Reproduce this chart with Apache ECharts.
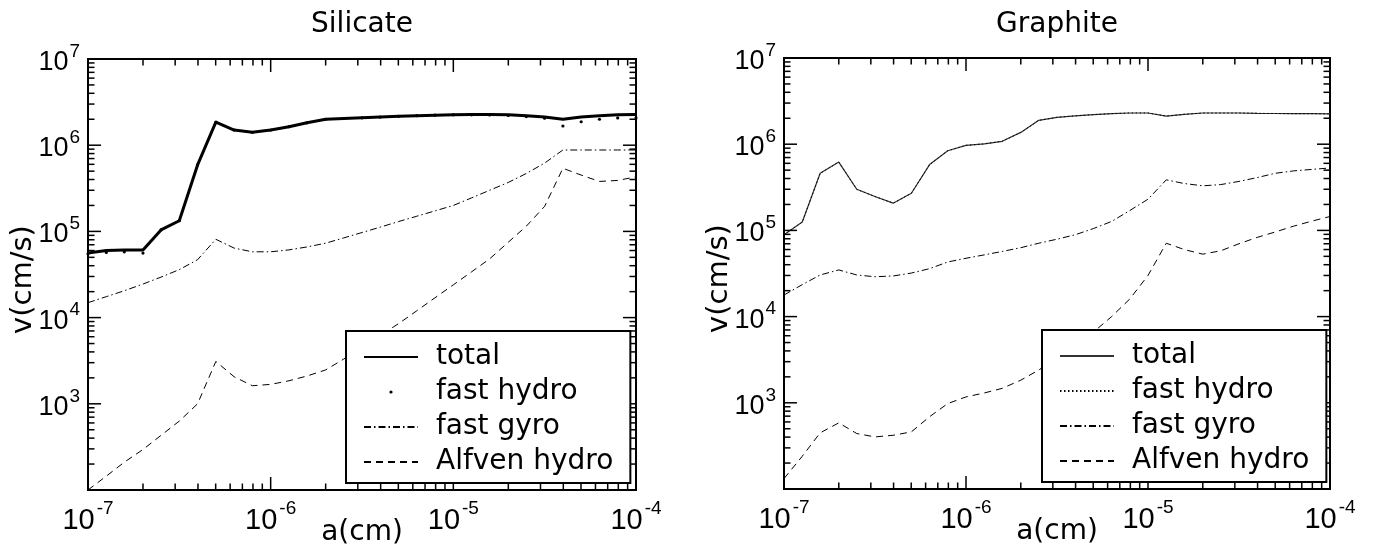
<!DOCTYPE html>
<html>
<head>
<meta charset="utf-8">
<script src="https://cdn.jsdelivr.net/npm/echarts@6/dist/echarts.min.js"></script>
<style>
html, body { margin: 0; padding: 0; background: #fff; }
#c1 { position: absolute; left: 0; top: 0; width: 690px; height: 548px; }
#c2 { position: absolute; left: 690px; top: 0; width: 687px; height: 548px; }
</style>
</head>
<body>
<div id="c1"></div>
<div id="c2"></div>
<script>
// grain radius a (cm)
const radius = [
  1.00e-7, 1.26e-7, 1.58e-7, 2.00e-7, 2.51e-7, 3.16e-7, 3.98e-7, 5.01e-7, 6.31e-7, 7.94e-7,
  1.00e-6, 1.26e-6, 1.58e-6, 2.00e-6, 2.51e-6, 3.16e-6, 3.98e-6, 5.01e-6, 6.31e-6, 7.94e-6,
  1.00e-5, 1.26e-5, 1.58e-5, 2.00e-5, 2.51e-5, 3.16e-5, 3.98e-5, 5.01e-5, 6.31e-5, 7.94e-5,
  1.00e-4
];

// Silicate velocities (cm/s)
const silTotal = [
  5.6e4, 6.0e4, 6.1e4, 6.1e4, 1.04e5, 1.33e5, 5.9e5, 1.85e6, 1.5e6, 1.41e6,
  1.5e6, 1.64e6, 1.82e6, 2.0e6, 2.04e6, 2.08e6, 2.12e6, 2.16e6, 2.2e6, 2.23e6,
  2.26e6, 2.27e6, 2.27e6, 2.25e6, 2.2e6, 2.12e6, 2.0e6, 2.13e6, 2.2e6, 2.25e6,
  2.27e6
];
const silFastHydro = [
  5.5e4, 5.7e4, 5.8e4, 5.6e4, 1.04e5, 1.33e5, 5.9e5, 1.85e6, 1.5e6, 1.41e6,
  1.5e6, 1.64e6, 1.82e6, 2.0e6, 2.04e6, 2.08e6, 2.12e6, 2.16e6, 2.2e6, 2.23e6,
  2.25e6, 2.25e6, 2.24e6, 2.21e6, 2.15e6, 2.06e6, 1.67e6, 1.87e6, 2.0e6, 2.07e6,
  2.07e6
];
const silFastGyro = [
  1.49e4, 1.75e4, 2.05e4, 2.45e4, 2.95e4, 3.6e4, 4.7e4, 8.1e4, 6.4e4, 5.8e4,
  5.8e4, 6.1e4, 6.6e4, 7.3e4, 8.4e4, 9.7e4, 1.12e5, 1.3e5, 1.5e5, 1.73e5,
  2.0e5, 2.45e5, 3.0e5, 3.7e5, 4.7e5, 6.2e5, 8.8e5, 8.8e5, 8.8e5, 8.8e5,
  8.8e5
];
const silAlfven = [
  1.0e2, 1.45e2, 2.1e2, 2.95e2, 4.3e2, 6.3e2, 1.0e3, 3.1e3, 2.06e3, 1.62e3,
  1.68e3, 1.85e3, 2.1e3, 2.47e3, 3.3e3, 4.5e3, 6.2e3, 8.5e3, 1.2e4, 1.7e4,
  2.4e4, 3.4e4, 4.8e4, 7.5e4, 1.15e5, 1.95e5, 5.4e5, 4.5e5, 3.8e5, 3.9e5,
  4.3e5
];

// Graphite velocities (cm/s)
const graTotal = [
  8.9e4, 1.25e5, 4.6e5, 6.2e5, 3.0e5, 2.47e5, 2.07e5, 2.7e5, 5.8e5, 8.4e5,
  9.7e5, 1.01e6, 1.08e6, 1.37e6, 1.89e6, 2.05e6, 2.13e6, 2.2e6, 2.26e6, 2.3e6,
  2.3e6, 2.12e6, 2.22e6, 2.3e6, 2.3e6, 2.3e6, 2.28e6, 2.27e6, 2.26e6, 2.26e6,
  2.25e6
];
const graFastHydro = [
  8.9e4, 1.25e5, 4.6e5, 6.2e5, 3.0e5, 2.47e5, 2.07e5, 2.7e5, 5.8e5, 8.4e5,
  9.7e5, 1.01e6, 1.08e6, 1.37e6, 1.89e6, 2.05e6, 2.13e6, 2.2e6, 2.26e6, 2.3e6,
  2.3e6, 2.12e6, 2.22e6, 2.3e6, 2.3e6, 2.3e6, 2.28e6, 2.27e6, 2.26e6, 2.26e6,
  2.25e6
];
const graFastGyro = [
  1.78e4, 2.35e4, 3.04e4, 3.48e4, 3.04e4, 2.9e4, 2.96e4, 3.2e4, 3.6e4, 4.3e4,
  4.75e4, 5.2e4, 5.7e4, 6.3e4, 7.1e4, 7.9e4, 8.9e4, 1.05e5, 1.27e5, 1.7e5,
  2.3e5, 3.86e5, 3.5e5, 3.29e5, 3.4e5, 3.7e5, 4.1e5, 4.6e5, 4.9e5, 5.1e5,
  5.3e5
];
const graAlfven = [
  1.32e2, 2.4e2, 4.48e2, 5.85e2, 4.4e2, 4.02e2, 4.2e2, 4.6e2, 6.9e2, 9.8e2,
  1.17e3, 1.3e3, 1.47e3, 1.83e3, 2.4e3, 3.3e3, 4.7e3, 6.6e3, 1.0e4, 1.6e4,
  3.0e4, 7.1e4, 6.0e4, 5.3e4, 5.8e4, 7.0e4, 8.3e4, 9.6e4, 1.12e5, 1.28e5,
  1.45e5
];

const seriesNames = ['total', 'fast hydro', 'fast gyro', 'Alfven hydro'];
const panelTitles = ['Silicate', 'Graphite'];
const xName = 'a(cm)';
const yName = 'v(cm/s)';
const xTickValues = [1e-7, 1e-6, 1e-5, 1e-4];
const xTickLabels = ['-7', '-6', '-5', '-4'];
const yTickValues = [1e3, 1e4, 1e5, 1e6, 1e7];
const yTickLabels = ['3', '4', '5', '6', '7'];
const xDecades = [-7, -6, -5, -4];
const yDecades = [2, 3, 4, 5, 6, 7];

const TXT = 'DejaVu Sans';
const NUM = 'Liberation Sans';

function pairs(ys) { return radius.map((x, i) => [x, ys[i]]); }

function expFormatter(values, labels) {
  return function (v) {
    const e = Math.round(Math.log10(v));
    for (let i = 0; i < values.length; i++) {
      if (Math.round(Math.log10(values[i])) === e) return '{b|10}{e|' + labels[i] + '}';
    }
    return '';
  };
}

const richY = {
  b: { fontFamily: NUM, fontSize: 27, color: '#000', verticalAlign: 'bottom', lineHeight: 28 },
  e: { fontFamily: NUM, fontSize: 19, color: '#000', verticalAlign: 'bottom', padding: [0, 0, 15, 1] }
};
const richX = {
  b: { fontFamily: NUM, fontSize: 29, color: '#000', verticalAlign: 'bottom', lineHeight: 30 },
  e: { fontFamily: NUM, fontSize: 19, color: '#000', verticalAlign: 'bottom', padding: [0, 0, 17, 2] }
};

function tickSeries() {
  return {
    type: 'custom', silent: true, z: 3,
    data: [[1e-6, 1e4]],
    renderItem: function (params, api) {
      const cs = params.coordSys;
      const L = cs.x, R = cs.x + cs.width, T = cs.y, B = cs.y + cs.height;
      const st = { stroke: '#000', lineWidth: 1.5 };
      const kids = [];
      const majorLen = 13, minorLen = 6.5;
      for (let d = 0; d < xDecades.length; d++) {
        for (let m = 1; m <= 9; m++) {
          if (d === xDecades.length - 1 && m > 1) break;
          const v = m * Math.pow(10, xDecades[d]);
          const px = api.coord([v, 1e4])[0];
          const len = m === 1 ? majorLen : minorLen;
          kids.push({ type: 'line', shape: { x1: px, y1: B, x2: px, y2: B - len }, style: st });
          kids.push({ type: 'line', shape: { x1: px, y1: T, x2: px, y2: T + len }, style: st });
        }
      }
      for (let d = 0; d < yDecades.length; d++) {
        for (let m = 1; m <= 9; m++) {
          if (d === yDecades.length - 1 && m > 1) break;
          const v = m * Math.pow(10, yDecades[d]);
          const py = api.coord([1e-6, v])[1];
          const len = m === 1 ? majorLen : minorLen;
          kids.push({ type: 'line', shape: { x1: L, y1: py, x2: L + len, y2: py }, style: st });
          kids.push({ type: 'line', shape: { x1: R, y1: py, x2: R - len, y2: py }, style: st });
        }
      }
      return { type: 'group', children: kids };
    }
  };
}

function buildOption(p) {
  return {
    animation: false,
    backgroundColor: '#fff',
    graphic: [{
      type: 'text', x: p.titleX, y: 25, z: 10,
      style: { text: p.title, font: '28px "' + TXT + '"', fill: '#000',
               align: 'center', verticalAlign: 'middle', textAlign: 'center', textVerticalAlign: 'middle' }
    }],
    grid: {
      left: p.grid[0], top: p.grid[1], width: p.grid[2], height: p.grid[3],
      containLabel: false, outerBoundsMode: 'none',
      show: true, borderColor: '#000', borderWidth: 2, backgroundColor: 'transparent'
    },
    legend: {
      orient: 'vertical', left: p.legend[0], top: p.legend[1],
      padding: [12, 17, 7, 17],
      itemWidth: 54, itemHeight: 4, itemGap: 7,
      backgroundColor: '#fff', borderColor: '#000', borderWidth: 2,
      selectedMode: false,
      textStyle: { fontFamily: TXT, fontSize: 28, color: '#000', lineHeight: 28, padding: [0, 0, 0, 13] },
      data: [
        { name: seriesNames[0], itemStyle: { opacity: 0 } },
        { name: seriesNames[1] },
        { name: seriesNames[2], itemStyle: { opacity: 0 } },
        { name: seriesNames[3], itemStyle: { opacity: 0 } }
      ]
    },
    xAxis: {
      type: 'log', logBase: 10, min: 1e-7, max: 1e-4,
      name: xName, nameLocation: 'middle', nameGap: 29, nameMoveOverlap: false,
      nameTextStyle: { fontFamily: TXT, fontSize: 28, color: '#000' },
      axisLine: { show: false }, axisTick: { show: false }, splitLine: { show: false },
      axisLabel: { margin: 9, formatter: expFormatter(xTickValues, xTickLabels), rich: richX }
    },
    yAxis: {
      type: 'log', logBase: 10, min: 1e2, max: 1e7,
      name: yName, nameLocation: 'middle', nameGap: 50, nameRotate: 90, nameMoveOverlap: false,
      nameTextStyle: { fontFamily: TXT, fontSize: 29, color: '#000', padding: [0, 10, 0, 0] },
      axisLine: { show: false }, axisTick: { show: false }, splitLine: { show: false },
      axisLabel: { margin: 8, showMinLabel: false, formatter: expFormatter(yTickValues, yTickLabels), rich: richY }
    },
    series: [
      tickSeries(),
      { name: seriesNames[0], type: 'line', data: pairs(p.total), symbol: 'none', z: 2,
        lineStyle: { color: p.totalColor, width: p.totalWidth, type: 'solid' }, itemStyle: { color: p.totalColor } },
      p.hydro,
      { name: seriesNames[2], type: 'line', data: pairs(p.gyro), symbol: 'none', z: 2,
        lineStyle: { color: '#000', width: 1, type: [7, 3, 1.5, 3] }, itemStyle: { color: '#000' } },
      { name: seriesNames[3], type: 'line', data: pairs(p.alfven), symbol: 'none', z: 2,
        lineStyle: { color: '#000', width: 1, type: [7, 5] }, itemStyle: { color: '#000' } }
    ]
  };
}

const c1 = echarts.init(document.getElementById('c1'), null, { renderer: 'canvas' });
c1.setOption(buildOption({
  title: panelTitles[0], titleX: 362,
  grid: [88, 59, 548, 431], legend: [346, 331],
  total: silTotal, totalColor: '#000', totalWidth: 3,
  hydro: { name: seriesNames[1], type: 'line', data: pairs(silFastHydro), symbol: 'circle', symbolSize: 3.2,
           showSymbol: true, z: 2, lineStyle: { width: 0, opacity: 0, color: '#000' }, itemStyle: { color: '#000' } },
  gyro: silFastGyro, alfven: silAlfven
}));

const c2 = echarts.init(document.getElementById('c2'), null, { renderer: 'canvas' });
c2.setOption(buildOption({
  title: panelTitles[1], titleX: 367,
  grid: [94, 58, 546, 431], legend: [352, 330],
  total: graTotal, totalColor: '#333', totalWidth: 1.2,
  hydro: { name: seriesNames[1], type: 'line', data: pairs(graFastHydro), symbol: 'none', z: 2,
           lineStyle: { width: 1, type: [1.5, 2.5], color: '#000' }, itemStyle: { color: '#000', opacity: 0 } },
  gyro: graFastGyro, alfven: graAlfven
}));
</script>
</body>
</html>
